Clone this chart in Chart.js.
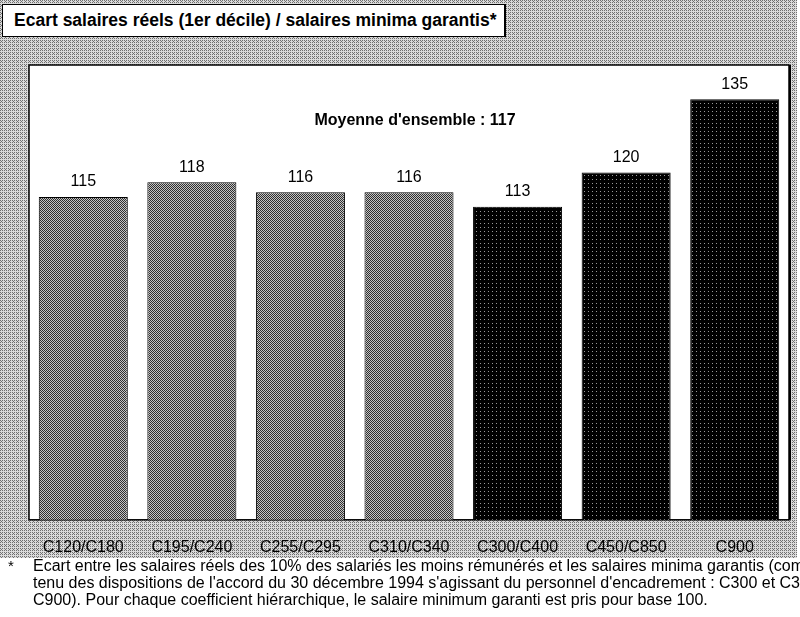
<!DOCTYPE html>
<html>
<head>
<meta charset="utf-8">
<script src="https://cdn.jsdelivr.net/npm/chart.js@4/dist/chart.umd.min.js"></script>
<style>
	body { margin: 0; background: #fff; font-family: 'Liberation Sans', Arial, sans-serif; }
	#page { position: relative; width: 800px; height: 617px; overflow: hidden; background: #fff; }
	#bg { position: absolute; left: 0; top: 0; width: 797px; height: 558px; background-color: #c6c6c6; }
	#chart { position: absolute; left: 0; top: 0; }
	#titlebox {
		position: absolute; left: 2px; top: 4px; width: 490px; height: 31px;
		background: #fff; border: 1px solid #000; border-right-width: 2px;
		font-weight: bold; font-size: 17.5px; line-height: 31px; padding-left: 11px; box-sizing: content-box;
		white-space: nowrap; color: #000;
	}
	.note { position: absolute; left: 33px; font-size: 16px; line-height: 18px; white-space: nowrap; color: #000; }
	#star { position: absolute; left: 8px; top: 557px; font-size: 15px; }
</style>
</head>
<body>
<div id="page">
	<div id="bg"></div>
	<canvas id="chart" width="800" height="617"></canvas>
	<div id="titlebox"></div>
	<div id="star">*</div>
	<div class="note" style="top:557px" id="n1"></div>
	<div class="note" style="top:574px" id="n2"></div>
	<div class="note" style="top:591px" id="n3"></div>
</div>
<script>
const chartTitle = 'Ecart salaires réels (1er décile) / salaires minima garantis*';
const averageLabel = "Moyenne d'ensemble : 117";
const categories = ['C120/C180', 'C195/C240', 'C255/C295', 'C310/C340', 'C300/C400', 'C450/C850', 'C900'];
const ratios = [115, 118, 116, 116, 113, 120, 135];
const cadre = [false, false, false, false, true, true, true];
const footnote = [
	"Ecart entre les salaires réels des 10% des salariés les moins rémunérés et les salaires minima garantis (compte",
	"tenu des dispositions de l'accord du 30 décembre 1994 s'agissant du personnel d'encadrement : C300 et C360 à",
	"C900). Pour chaque coefficient hiérarchique, le salaire minimum garanti est pris pour base 100.",
];

document.getElementById('titlebox').textContent = chartTitle;
footnote.forEach((t, i) => { document.getElementById('n' + (i + 1)).textContent = t; });

// small ordered-dither tiles, to get the scanned look
const bayer = [[0, 8, 2, 10], [12, 4, 14, 6], [3, 11, 1, 9], [15, 7, 13, 5]];
function dither(dark, ink, paper) {
	const c = document.createElement('canvas');
	c.width = 4; c.height = 4;
	const g = c.getContext('2d');
	for (let y = 0; y < 4; y++) {
		for (let x = 0; x < 4; x++) {
			g.fillStyle = (bayer[y][x] + 0.5) / 16 < dark ? ink : paper;
			g.fillRect(x, y, 1, 1);
		}
	}
	return c;
}
const bgTile = dither(0.3, '#707070', '#dadada');
document.getElementById('bg').style.backgroundImage = 'url(' + bgTile.toDataURL() + ')';

const ctx = document.getElementById('chart').getContext('2d');
const lightFill = ctx.createPattern(dither(0.5, '#2e2e2e', '#c4c4c4'), 'repeat');
const darkFill = ctx.createPattern(dither(0.94, '#000', '#9a9a9a'), 'repeat');

const framePlugin = {
	id: 'frame',
	beforeDraw(chart) {
		const { ctx, chartArea: a } = chart;
		ctx.save();
		ctx.fillStyle = '#fff';
		ctx.fillRect(a.left, a.top, a.right - a.left, a.bottom - a.top);
		ctx.strokeStyle = '#000';
		ctx.lineWidth = 1.5;
		ctx.strokeRect(a.left, a.top, a.right - a.left, a.bottom - a.top);
		ctx.lineWidth = 2;
		ctx.beginPath();
		ctx.moveTo(a.right + 1, a.top);
		ctx.lineTo(a.right + 1, a.bottom);
		ctx.stroke();
		ctx.restore();
	},
	afterDatasetsDraw(chart) {
		const { ctx, chartArea: a } = chart;
		ctx.save();
		ctx.fillStyle = '#000';
		ctx.textAlign = 'center';
		ctx.textBaseline = 'bottom';
		ctx.font = '16px "Liberation Sans", Arial, sans-serif';
		chart.getDatasetMeta(0).data.forEach((bar, i) => {
			ctx.fillText(String(ratios[i]), bar.x, bar.y - 7);
		});
		ctx.font = 'bold 16px "Liberation Sans", Arial, sans-serif';
		ctx.textBaseline = 'middle';
		ctx.fillText(averageLabel, (a.left + a.right) / 2 + 6, 121);
		ctx.restore();
	},
};

new Chart(ctx, {
	type: 'bar',
	data: {
		labels: categories,
		datasets: [
			{
				data: ratios,
				backgroundColor: cadre.map(c => c ? darkFill : lightFill),
				borderColor: '#000',
				borderWidth: 1,
				borderSkipped: 'bottom',
				barPercentage: 0.82,
				categoryPercentage: 1,
			},
		],
	},
	options: {
		responsive: false,
		animation: false,
		layout: { padding: { left: 29, right: 11, top: 65, bottom: 42 } },
		plugins: { legend: { display: false }, tooltip: { enabled: false } },
		scales: {
			x: {
				grid: { display: false, drawTicks: false },
				border: { display: false },
				ticks: { color: '#000', padding: 18, font: { size: 16, family: '"Liberation Sans", Arial, sans-serif' } },
			},
			y: { display: false, min: 49, max: 142 },
		},
	},
	plugins: [framePlugin],
});
</script>
</body>
</html>
